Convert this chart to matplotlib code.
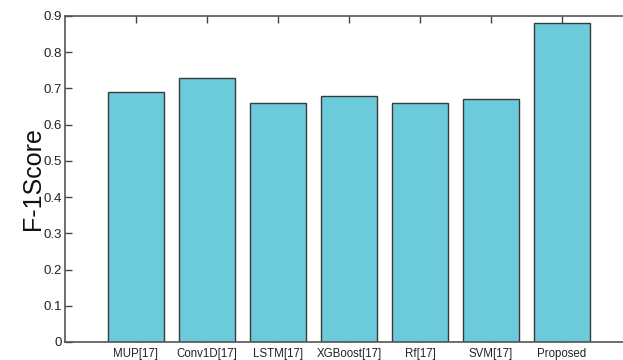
import matplotlib
matplotlib.use('Agg')
import matplotlib.pyplot as plt
import numpy as np

methods = ['MUP[17]', 'Conv1D[17]', 'LSTM[17]', 'XGBoost[17]', 'Rf[17]', 'SVM[17]', 'Proposed']
f1_scores = [0.69, 0.73, 0.66, 0.68, 0.66, 0.67, 0.88]
yticks = [0, 0.1, 0.2, 0.3, 0.4, 0.5, 0.6, 0.7, 0.8, 0.9]

plt.rcParams['font.family'] = ['Liberation Sans', 'DejaVu Sans']

fig = plt.figure(figsize=(6.23, 3.6), dpi=100)
# axes runs past the right edge of the figure, like the cropped original
ax = fig.add_axes([65/623, 18/360, 568/623, 326/360])

x = np.arange(1, len(methods) + 1)
ax.bar(x, f1_scores, width=0.8, color='#6bcbda', edgecolor='#3a3a3a', linewidth=1.0, zorder=2)

ax.set_xlim(0, 8)
ax.set_ylim(0, 0.9)
ax.set_xticks(x)
ax.set_xticklabels(methods, fontsize=8.3, color='#222222')
ax.set_yticks(yticks)
ax.set_yticklabels([('%g' % v) for v in yticks], fontsize=9.5, color='#222222')

ax.tick_params(axis='both', direction='in', length=5, width=1, color='#444444',
               top=True, right=False)
ax.tick_params(axis='y', pad=2)
ax.tick_params(axis='x', pad=4)

for side in ['left', 'top', 'bottom']:
    ax.spines[side].set_color('#555555')
    ax.spines[side].set_linewidth(1.2)
ax.spines['right'].set_visible(False)

ax.set_ylabel('F-1Score', fontsize=18, color='#111111', labelpad=-1)

fig.savefig('out.png', dpi=100)
